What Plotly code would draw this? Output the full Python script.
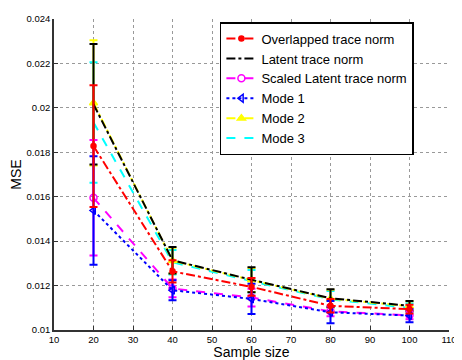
import plotly.graph_objects as go

sample_size = [20, 40, 60, 80, 100]

overlapped = [0.01828, 0.01264, 0.01194, 0.01109, 0.01094]
overlapped_err = [0.00274, 0.00050, 0.00040, 0.00030, 0.00020]

latent = [0.02016, 0.01314, 0.01226, 0.01143, 0.01109]
latent_err = [0.00271, 0.00060, 0.00056, 0.00040, 0.00022]

scaled_latent = [0.01595, 0.01187, 0.01146, 0.01084, 0.01066]
scaled_latent_err = [0.00260, 0.00040, 0.00040, 0.00022, 0.00018]

mode1 = [0.01538, 0.01179, 0.01140, 0.01080, 0.01065]
mode1_err = [0.00244, 0.00045, 0.00068, 0.00050, 0.00030]

mode2 = [0.02022, 0.01312, 0.01225, 0.01141, 0.01107]
mode2_err = [0.00282, 0.00058, 0.00054, 0.00040, 0.00022]

mode3 = [0.01934, 0.01305, 0.01220, 0.01138, 0.01100]
mode3_err = [0.00271, 0.00055, 0.00050, 0.00038, 0.00020]

x_ticks = [10, 20, 30, 40, 50, 60, 70, 80, 90, 100, 110]
x_ticklabels = ["10", "20", "30", "40", "50", "60", "70", "80", "90", "100", "110"]
y_ticks = [0.01, 0.012, 0.014, 0.016, 0.018, 0.02, 0.022, 0.024]
y_ticklabels = ["0.01", "0.012", "0.014", "0.016", "0.018", "0.02", "0.022", "0.024"]

series = [
    # name, y, err, color, dash, marker, msize, rank
    ("Mode 3", mode3, mode3_err, "#00FFFF", "dash", None, 0, 6),
    ("Mode 2", mode2, mode2_err, "#FFFF00", "dashdot", "triangle-up", 7, 5),
    ("Latent trace norm", latent, latent_err, "#000000", "dashdot", None, 0, 2),
    ("Scaled Latent trace norm", scaled_latent, scaled_latent_err, "#FF00FF", "dash", "circle-open", 7, 3),
    ("Mode 1", mode1, mode1_err, "#0000FF", "dot", "triangle-left-open", 7, 4),
    ("Overlapped trace norm", overlapped, overlapped_err, "#FF0000", "dashdot", "circle", 5, 1),
]

fig = go.Figure()
for name, y, err, color, dash, marker, msize, rank in series:
    fig.add_trace(go.Scatter(
        x=sample_size, y=y, name=name, legendrank=rank,
        mode="lines+markers" if marker else "lines",
        line=dict(color=color, dash=dash, width=2),
        marker=dict(symbol=marker or "circle", size=msize, color=color,
                    line=dict(color=color, width=1.5)),
        error_y=dict(type="data", array=err, visible=True, color=color,
                     thickness=2, width=4),
    ))

font = "Liberation Sans, Arial, Helvetica, sans-serif"
# The page body adds an 8 px offset, so the figure is sized to fit the window.
fig.update_layout(
    width=454, height=352,
    margin=dict(l=43, r=7, t=5, b=29),
    paper_bgcolor="white", plot_bgcolor="white",
    font=dict(family=font, size=11, color="black"),
    showlegend=True,
    legend=dict(x=0.42, y=0.99, xanchor="left", yanchor="top",
                bgcolor="white", bordercolor="black", borderwidth=1.5,
                font=dict(size=13, family=font), tracegroupgap=0,
                itemwidth=30, entrywidth=224, entrywidthmode="pixels"),
    xaxis=dict(range=[10, 110], tickmode="array",
               tickvals=x_ticks, ticktext=x_ticklabels,
               showline=True, linecolor="#333333", linewidth=1.5,
               ticks="inside", ticklen=4, tickcolor="#333333",
               showgrid=True, gridcolor="#999999", griddash="dot", gridwidth=1,
               zeroline=False, ticklabeloverflow="allow",
               title=dict(text="Sample size", font=dict(size=14), standoff=0),
               tickfont=dict(size=9.5)),
    yaxis=dict(range=[0.01, 0.024], tickmode="array",
               tickvals=y_ticks, ticktext=y_ticklabels,
               showline=True, linecolor="#333333", linewidth=1.5,
               ticks="inside", ticklen=4, tickcolor="#333333",
               showgrid=True, gridcolor="#999999", griddash="dot", gridwidth=1,
               zeroline=False, ticklabeloverflow="allow",
               title=dict(text="MSE", font=dict(size=14), standoff=4),
               tickfont=dict(size=9.5)),
)

fig.write_html("out.html")
